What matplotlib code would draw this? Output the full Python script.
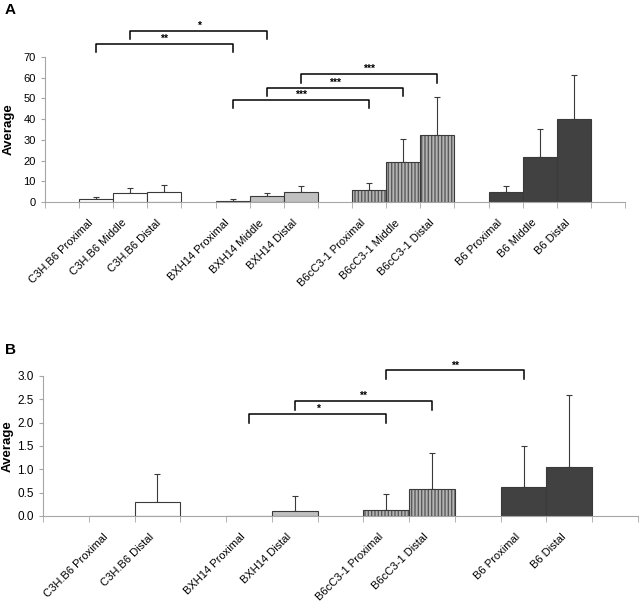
import matplotlib
matplotlib.use("Agg")
import matplotlib.pyplot as plt
import matplotlib.transforms as mtransforms
import numpy as np
from matplotlib.ticker import FormatStrFormatter

plt.rcParams["font.family"] = ["Liberation Sans", "DejaVu Sans"]
plt.rcParams["hatch.linewidth"] = 1.0

# panel A
slots_a = ["", "C3H.B6 Proximal", "C3H.B6 Middle", "C3H.B6 Distal", "",
           "BXH14 Proximal", "BXH14 Middle", "BXH14 Distal", "",
           "B6cC3-1 Proximal", "B6cC3-1 Middle", "B6cC3-1 Distal", "",
           "B6 Proximal", "B6 Middle", "B6 Distal", ""]
mean_a = [1.3, 4.2, 4.7, 0.5, 2.7, 5.0, 6.0, 19.5, 32.3, 4.8, 21.6, 40.3]
err_a = [1.3, 2.4, 3.3, 0.8, 1.8, 2.6, 3.2, 11.1, 18.6, 3.1, 13.4, 20.9]
br_a_left = ["C3H.B6 Middle", "C3H.B6 Proximal", "BXH14 Proximal", "BXH14 Middle", "BXH14 Distal"]
br_a_right = ["BXH14 Middle", "BXH14 Proximal", "B6cC3-1 Proximal", "B6cC3-1 Middle", "B6cC3-1 Distal"]
br_a_y = [82.6, 76.4, 49.4, 55.2, 61.7]
br_a_txt = ["*", "**", "***", "***", "***"]

# panel B
slots_b = ["", "C3H.B6 Proximal", "C3H.B6 Distal", "",
           "BXH14 Proximal", "BXH14 Distal", "",
           "B6cC3-1 Proximal", "B6cC3-1 Distal", "",
           "B6 Proximal", "B6 Distal", ""]
mean_b = [0.003, 0.31, 0.003, 0.10, 0.13, 0.57, 0.62, 1.05]
err_b = [0.0, 0.59, 0.0, 0.33, 0.34, 0.77, 0.89, 1.55]
br_b_left = ["BXH14 Proximal", "BXH14 Distal", "B6cC3-1 Proximal"]
br_b_right = ["B6cC3-1 Proximal", "B6cC3-1 Distal", "B6 Proximal"]
br_b_y = [2.18, 2.46, 3.12]
br_b_txt = ["*", "**", "**"]

STRAIN_STYLE = {
    "C3H.B6": dict(face="white", hatch=None),
    "BXH14": dict(face="#c0c0c0", hatch=None),
    "B6cC3-1": dict(face="#b4b4b4", hatch="|||||"),
    "B6": dict(face="#414141", hatch=None),
}
AXIS_GRAY = "#a6a6a6"
EDGE = "#3a3a3a"


def draw_panel(fig, ax, slots, means, errs, ymax, ystep, fmt, yfs, leg, brackets, label_x):
    names = [s for s in slots if s]
    pos = {s: i + 0.5 for i, s in enumerate(slots) if s}
    x = np.array([pos[n] for n in names])
    for xi, name, m, e in zip(x, names, means, errs):
        st = STRAIN_STYLE[name.rsplit(" ", 1)[0]]
        if st["hatch"]:
            ax.bar(xi, m, width=1.0, color=st["face"], hatch=st["hatch"],
                   edgecolor="#5a5a5a", linewidth=0, zorder=2)
            ax.bar(xi, m, width=1.0, fill=False, edgecolor=EDGE, linewidth=0.8, zorder=3)
        else:
            ax.bar(xi, m, width=1.0, color=st["face"], edgecolor=EDGE, linewidth=0.8, zorder=2)
        if e > 0:
            ax.errorbar(xi, m, yerr=[[0], [e]], fmt="none", ecolor=EDGE,
                        elinewidth=0.8, capsize=2.5, capthick=0.8, zorder=1)

    for l, r, y, t in zip(*brackets):
        x1, x2 = pos[l], pos[r]
        ax.plot([x1, x1, x2, x2], [y - leg, y, y, y - leg], color="black",
                lw=1.1, clip_on=False, zorder=4)
        ax.text((x1 + x2) / 2, y, t, ha="center", va="bottom", fontsize=7.5,
                fontweight="bold", clip_on=False)

    ax.set_xlim(0, len(slots))
    ax.set_ylim(0, ymax)
    ax.set_yticks(np.arange(0, ymax + ystep / 2, ystep))
    ax.yaxis.set_major_formatter(FormatStrFormatter(fmt))
    ax.set_xticks([i + 0.5 for i in range(len(slots))])
    ax.set_xticklabels(slots, rotation=45, ha="right", va="center",
                       rotation_mode="anchor", fontsize=8)
    ax.set_xticks(range(len(slots) + 1), minor=True)
    ax.tick_params(axis="x", which="major", length=0, pad=11)
    ax.tick_params(axis="x", which="minor", length=4, color=AXIS_GRAY)
    ax.tick_params(axis="y", length=3, color=AXIS_GRAY, labelsize=yfs)
    # nudge the slanted labels down-left along their own direction
    shift = mtransforms.ScaledTranslation(-0.05, -0.04, fig.dpi_scale_trans)
    for lab in ax.get_xticklabels():
        lab.set_transform(lab.get_transform() + shift)
    for side in ["top", "right"]:
        ax.spines[side].set_visible(False)
    for side in ["left", "bottom"]:
        ax.spines[side].set_color(AXIS_GRAY)
    ax.set_ylabel("Average", fontweight="bold", fontsize=9.5)
    ax.yaxis.set_label_coords(label_x, 0.5)


fig = plt.figure(figsize=(6.4, 6.03), dpi=100)
ax_a = fig.add_axes([0.0703, 0.665, 0.9063, 0.2405])
ax_b = fig.add_axes([0.0672, 0.1443, 0.9297, 0.2322])

draw_panel(fig, ax_a, slots_a, mean_a, err_a, 70, 10, "%d", 8, 4.1,
           (br_a_left, br_a_right, br_a_y, br_a_txt), -0.052)
draw_panel(fig, ax_b, slots_b, mean_b, err_b, 3.0, 0.5, "%.1f", 8.5, 0.18,
           (br_b_left, br_b_right, br_b_y, br_b_txt), -0.050)

fig.text(0.008, 0.995, "A", fontsize=11, fontweight="bold", va="top")
fig.text(0.008, 0.432, "B", fontsize=11, fontweight="bold", va="top")

fig.savefig("out.png", dpi=100)
